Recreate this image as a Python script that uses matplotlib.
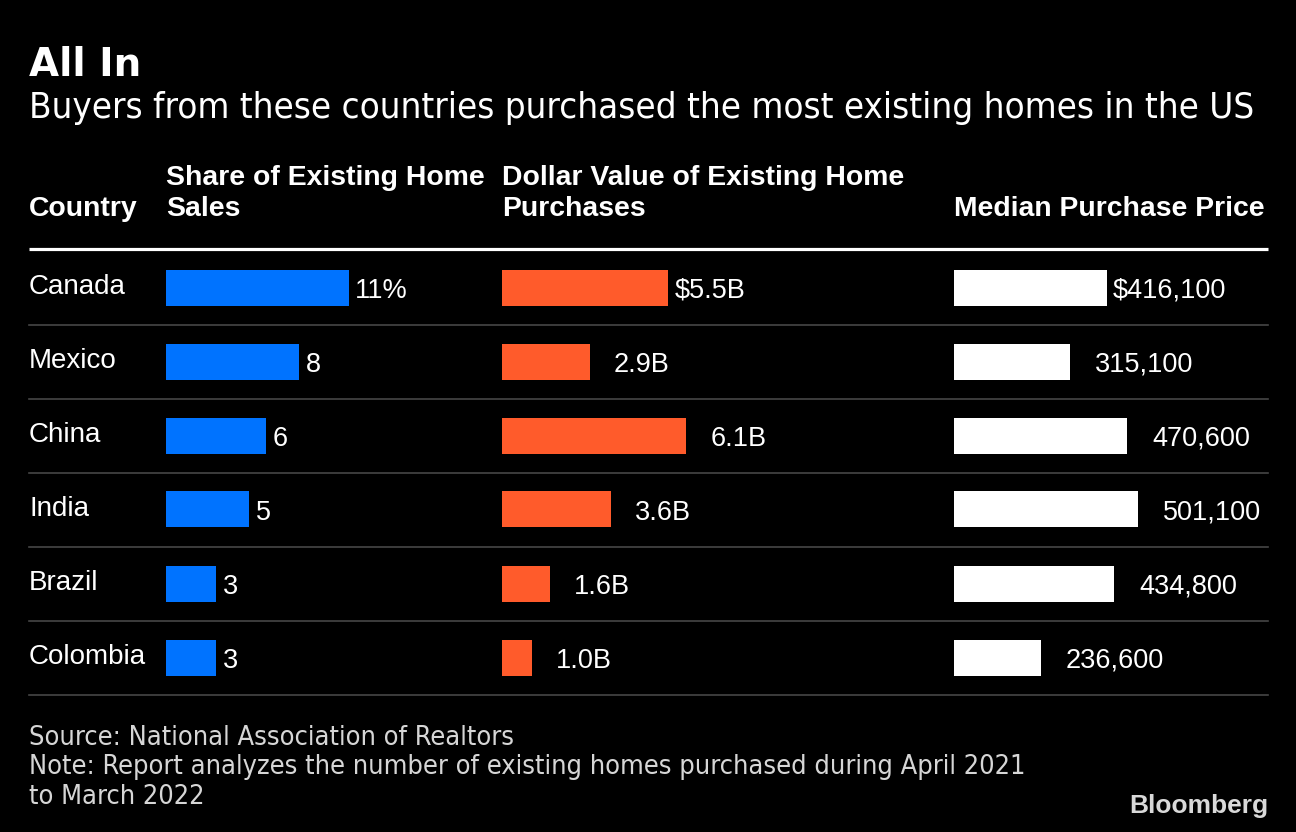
import matplotlib
matplotlib.use('Agg')
import matplotlib.pyplot as plt
from matplotlib import font_manager

countries = ['Canada', 'Mexico', 'China', 'India', 'Brazil', 'Colombia']
share_pct = [11, 8, 6, 5, 3, 3]
dollar_bn = [5.5, 2.9, 6.1, 3.6, 1.6, 1.0]
median_price = [416100, 315100, 470600, 501100, 434800, 236600]

share_labels = ['11%'] + [str(v) for v in share_pct[1:]]
dollar_labels = ['$%.1fB' % dollar_bn[0]] + ['%.1fB' % v for v in dollar_bn[1:]]
price_labels = ['${:,}'.format(median_price[0])] + ['{:,}'.format(v) for v in median_price[1:]]

title = 'All In'
subtitle = 'Buyers from these countries purchased the most existing homes in the US'
footer_lines = ['Source: National Association of Realtors',
                'Note: Report analyzes the number of existing homes purchased during April 2021',
                'to March 2022']

BG = '#000000'
BLUE = '#0073FF'
ORANGE = '#FF5B2B'
WHITE = '#FFFFFF'
GRID = '#464646'
FOOT = '#d6d6d6'

W, H = 1296, 832
BODY = 'Liberation Sans'

# condensed face for title block / footer if one is installed
names = {(f.name, f.stretch) for f in font_manager.fontManager.ttflist}
cond = 'condensed' if ('DejaVu Sans', 'condensed') in names else 'normal'

fig = plt.figure(figsize=(W / 100, H / 100), dpi=100, facecolor=BG)


def fx(px):
    return px / W


def fy(py):
    return 1 - py / H


def fit_width(t, target):
    fig.canvas.draw()
    w = t.get_window_extent().width
    t.set_fontsize(t.get_fontsize() * target / w)
    return t.get_fontsize()


fig.text(fx(29), fy(76), title, color=WHITE, fontsize=28, fontweight='bold',
         family='DejaVu Sans', va='baseline')
sub = fig.text(fx(29), fy(118), subtitle, color=WHITE, fontsize=24,
               family='DejaVu Sans', stretch=cond, va='baseline')
fit_width(sub, 1226)

# column headers
hdr = dict(color=WHITE, fontsize=20.4, fontweight='bold', family=BODY, va='baseline')
fig.text(fx(29), fy(216), 'Country', **hdr)
fig.text(fx(166), fy(185), 'Share of Existing Home', **hdr)
fig.text(fx(166), fy(216), 'Sales', **hdr)
fig.text(fx(502), fy(185), 'Dollar Value of Existing Home', **hdr)
fig.text(fx(502), fy(216), 'Purchases', **hdr)
fig.text(fx(954), fy(216), 'Median Purchase Price', **hdr)

# table area: rows from y=250.5 px, 74 px each
top, row_h = 250.5, 74
n = len(countries)
bottom = top + n * row_h
rect_y = fy(bottom)
rect_h = n * row_h / H

tab = fig.add_axes([0, rect_y, 1, rect_h])
tab.set_xlim(0, W)
tab.set_ylim(n - 0.5, -0.5)
tab.axis('off')
tab.plot([29, 1268], [-0.5 - 2 / row_h] * 2, color=WHITE, lw=2.3,
         solid_capstyle='butt', clip_on=False)
for i in range(n):
    tab.plot([29, 1268], [i + 0.5] * 2, color=GRID, lw=1.2, clip_on=False)
    tab.text(29, i + 7 / row_h, countries[i], color=WHITE, fontsize=20,
             family=BODY, va='baseline')


def bar_column(left_px, width_px, px_per_unit, values, labels, color, pad_first, pad_rest):
    ax = fig.add_axes([fx(left_px), rect_y, width_px / W, rect_h])
    ax.set_xlim(0, width_px / px_per_unit)
    ax.set_ylim(n - 0.5, -0.5)
    ax.axis('off')
    ax.barh(range(n), values, height=36 / row_h, color=color, linewidth=0)
    for i, (v, lab) in enumerate(zip(values, labels)):
        dx = pad_first if i == 0 else pad_rest
        ax.annotate(lab, xy=(v, i), xytext=(dx, -10), textcoords='offset pixels',
                    color=WHITE, fontsize=19.5, family=BODY, va='baseline',
                    annotation_clip=False)
    return ax


bar_column(166, 320, 16.65, share_pct, share_labels, BLUE, 6, 7)
bar_column(502, 430, 30.2, dollar_bn, dollar_labels, ORANGE, 7, 24)
bar_column(954, 330, 0.000368, median_price, price_labels, WHITE, 6, 25)

# footer, one text per line; size set from the long note line
foot = [fig.text(fx(29), fy(745 + 29.5 * k), line, color=FOOT, fontsize=17,
                 family='DejaVu Sans', stretch=cond, va='baseline')
        for k, line in enumerate(footer_lines)]
fs = fit_width(foot[1], 992)
for t in foot:
    t.set_fontsize(fs)

fig.text(fx(1268), fy(813), 'Bloomberg', color='#d9d9d9', fontsize=19,
         fontweight='bold', family=BODY, ha='right', va='baseline')

fig.savefig('out.png', dpi=100, facecolor=BG)
